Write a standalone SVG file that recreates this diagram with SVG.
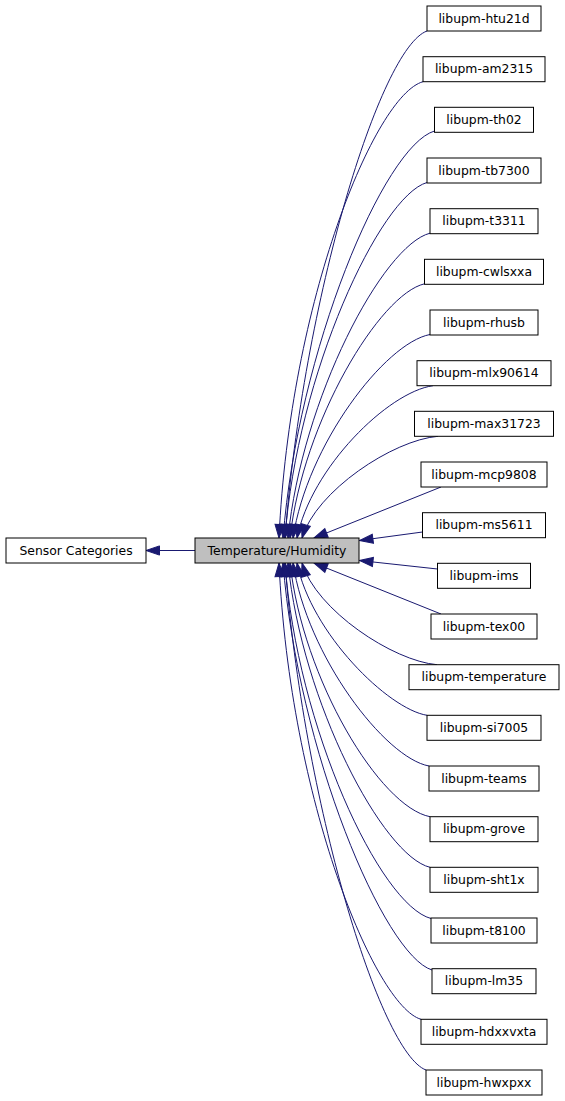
<svg xmlns="http://www.w3.org/2000/svg" width="565" height="1101" viewBox="0 0 565 1101">
<style>
.node rect{fill:#ffffff;stroke:#000000;stroke-width:1}
.node text{font-family:"DejaVu Sans","Liberation Sans",sans-serif;font-size:12.4px;text-anchor:middle;fill:#000000}
#n_parent rect{fill:#bfbfbf}
.edge path{fill:none;stroke:#191970;stroke-width:1;marker-end:url(#ah)}
</style>
<defs>
<marker id="ah" markerUnits="userSpaceOnUse" markerWidth="15" markerHeight="11" refX="13.5" refY="4.6" orient="auto" overflow="visible">
<path d="M0,0 L13.5,4.6 L0,9.2 z" fill="#191970" stroke="#191970" stroke-width="1"/>
</marker>
</defs>
<rect width="565" height="1101" fill="#ffffff"/>
<g id="connectors" class="edge">
<path d="M195,550.5 L146,550.5"/>
<path d="M427,31 C380,48 303,300 285,538"/>
<path d="M423,81.7 C375,95 290,300 279,538"/>
<path d="M434.5,131 C384,146 298,350 283,538"/>
<path d="M427,182.5 C380,196 297,374 285,538"/>
<path d="M430,233.2 C383,245 302,398 288,538"/>
<path d="M424.5,283.8 C380,294 303,421 290,538"/>
<path d="M430,334.5 C385,343 307,445 293,538"/>
<path d="M433,385.7 C388,392 311,468 297,538"/>
<path d="M438,436.3 C393,440 316,491 302,538"/>
<path d="M441,487 L314,538"/>
<path d="M422.5,532 L359.5,540.5"/>
<path d="M437.5,569 L359.5,560.5"/>
<path d="M441,614 L314,563"/>
<path d="M437,664.7 C393,661 316,610 302,563"/>
<path d="M427,715.3 C388,709 311,633 297,563"/>
<path d="M429,766 C385,758 307,656 293,563"/>
<path d="M430,816.7 C380,807 303,680 290,563"/>
<path d="M430,867.3 C383,856 302,703 288,563"/>
<path d="M431,918.5 C380,905 297,727 285,563"/>
<path d="M432,970 C384,955 298,751 283,563"/>
<path d="M421,1019.3 C375,1006 290,801 279,563"/>
<path d="M426,1070 C380,1053 303,801 285,563"/>
</g>
<g id="n_sensor" class="node"><rect x="6" y="538" width="140" height="25"/><text x="76" y="554.5">Sensor Categories</text></g>
<g id="n_parent" class="node"><rect x="195" y="538" width="164" height="25"/><text x="277" y="554.5">Temperature/Humidity</text></g>
<g id="n_htu21d" class="node"><rect x="427" y="6" width="114" height="25"/><text x="484" y="22.5">libupm-htu21d</text></g>
<g id="n_am2315" class="node"><rect x="423" y="56.7" width="122" height="25"/><text x="484" y="73.2">libupm-am2315</text></g>
<g id="n_th02" class="node"><rect x="434.5" y="107.3" width="99" height="25"/><text x="484" y="123.8">libupm-th02</text></g>
<g id="n_tb7300" class="node"><rect x="427" y="158" width="114" height="25"/><text x="484" y="174.5">libupm-tb7300</text></g>
<g id="n_t3311" class="node"><rect x="430" y="208.7" width="108" height="25"/><text x="484" y="225.2">libupm-t3311</text></g>
<g id="n_cwlsxxa" class="node"><rect x="424.5" y="259.3" width="119" height="25"/><text x="484" y="275.8">libupm-cwlsxxa</text></g>
<g id="n_rhusb" class="node"><rect x="430" y="310" width="108" height="25"/><text x="484" y="326.5">libupm-rhusb</text></g>
<g id="n_mlx90614" class="node"><rect x="417" y="360.7" width="134" height="25"/><text x="484" y="377.2">libupm-mlx90614</text></g>
<g id="n_max31723" class="node"><rect x="414.5" y="411.3" width="139" height="25"/><text x="484" y="427.8">libupm-max31723</text></g>
<g id="n_mcp9808" class="node"><rect x="421" y="462" width="126" height="25"/><text x="484" y="478.5">libupm-mcp9808</text></g>
<g id="n_ms5611" class="node"><rect x="422.5" y="512.7" width="123" height="25"/><text x="484" y="529.2">libupm-ms5611</text></g>
<g id="n_ims" class="node"><rect x="437.5" y="563.3" width="93" height="25"/><text x="484" y="579.8">libupm-ims</text></g>
<g id="n_tex00" class="node"><rect x="431" y="614" width="106" height="25"/><text x="484" y="630.5">libupm-tex00</text></g>
<g id="n_temperature" class="node"><rect x="409" y="664.7" width="150" height="25"/><text x="484" y="681.2">libupm-temperature</text></g>
<g id="n_si7005" class="node"><rect x="427" y="715.3" width="114" height="25"/><text x="484" y="731.8">libupm-si7005</text></g>
<g id="n_teams" class="node"><rect x="429" y="766" width="110" height="25"/><text x="484" y="782.5">libupm-teams</text></g>
<g id="n_grove" class="node"><rect x="430" y="816.7" width="108" height="25"/><text x="484" y="833.2">libupm-grove</text></g>
<g id="n_sht1x" class="node"><rect x="430" y="867.3" width="108" height="25"/><text x="484" y="883.8">libupm-sht1x</text></g>
<g id="n_t8100" class="node"><rect x="431" y="918" width="106" height="25"/><text x="484" y="934.5">libupm-t8100</text></g>
<g id="n_lm35" class="node"><rect x="432" y="968.7" width="104" height="25"/><text x="484" y="985.2">libupm-lm35</text></g>
<g id="n_hdxxvxta" class="node"><rect x="421" y="1019.3" width="126" height="25"/><text x="484" y="1035.8">libupm-hdxxvxta</text></g>
<g id="n_hwxpxx" class="node"><rect x="426" y="1070" width="116" height="25"/><text x="484" y="1086.5">libupm-hwxpxx</text></g>
</svg>
